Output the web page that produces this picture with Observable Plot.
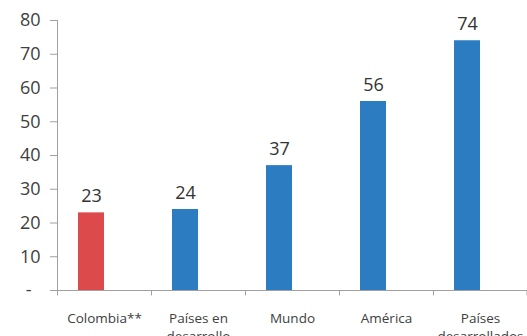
<!DOCTYPE html>
<html><head><meta charset="utf-8">
<script src="https://cdn.jsdelivr.net/npm/d3@7"></script>
<script src="https://cdn.jsdelivr.net/npm/@observablehq/plot@0.6"></script>
<style>body{margin:0;background:#fff}</style>
</head><body><div id="chart"></div>
<script>
const categories = ["Colombia**", "Países en\ndesarrollo", "Mundo", "América", "Países\ndesarrollados"];
const values = [23, 24, 37, 56, 74];
const yTicks = [0, 10, 20, 30, 40, 50, 60, 70, 80];
const highlight = "Colombia**";

const data = categories.map((c, i) => ({category: c, value: values[i]}));
const RED = "#DC4A4B", BLUE = "#2B7CC0", AXIS = "#A0A0A0";

const chart = Plot.plot({
  width: 527,
  height: 336,
  marginTop: 20,
  marginBottom: 46,
  marginLeft: 57,
  marginRight: 0,
  style: {fontFamily: "'Open Sans', sans-serif", color: "#404040", background: "#fff"},
  x: {domain: categories, padding: 0},
  y: {domain: [0, 80]},
  marks: [
    Plot.axisY({ticks: yTicks, tickSize: 7, tickPadding: 10, fontSize: 18, stroke: AXIS, strokeOpacity: 1,
      tickFormat: d => d === 0 ? "-\u2002" : String(d), label: null}),
    Plot.axisX({tickSize: 0, tickPadding: 20, fontSize: 13.5, label: null, lineHeight: 1.3}),
    Plot.ruleY([0], {stroke: AXIS}),
    Plot.ruleX(categories.slice(0, 1), {x: d => d, dx: -47, y1: 0, y2: 80, stroke: AXIS}),
    Plot.ruleX(categories, {x: d => d, dx: -47, y1: 0, y2: -1.6, stroke: AXIS}),
    Plot.ruleX(categories.slice(-1), {x: d => d, dx: 46.5, y1: 0, y2: -1.6, stroke: AXIS}),
    Plot.barY(data, {x: "category", y: "value", insetLeft: 21, insetRight: 47,
      fill: d => d.category === highlight ? RED : BLUE}),
    Plot.text(data, {x: "category", y: "value", text: d => String(d.value), dx: -13, dy: -11,
      lineAnchor: "bottom", fontSize: 18, fill: "#333"})
  ]
});
document.getElementById("chart").append(chart);
</script>
</body></html>
